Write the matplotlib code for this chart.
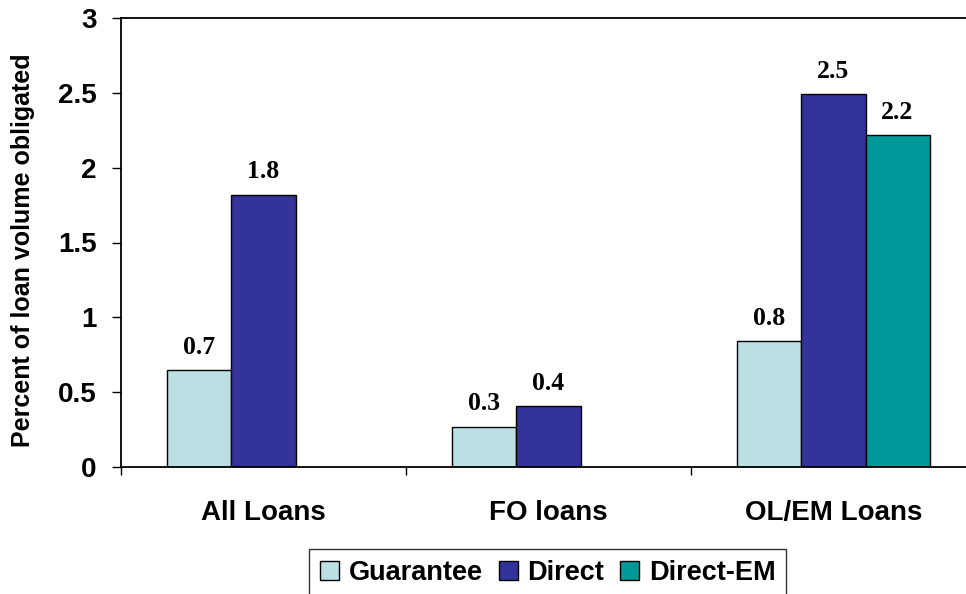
import numpy as np
import matplotlib.pyplot as plt

categories = ["All Loans", "FO loans", "OL/EM Loans"]
series_names = ["Guarantee", "Direct", "Direct-EM"]
guarantee = [0.65, 0.27, 0.84]
direct = [1.82, 0.41, 2.49]
direct_em = [np.nan, np.nan, 2.22]
colors = ["#BBE0E3", "#333399", "#009999"]

sans = "Liberation Sans"
serif = "Liberation Serif"

fig = plt.figure(figsize=(9.66, 5.94), dpi=100)
ax = fig.add_axes([121 / 966, 1 - 467 / 594, 855 / 966, 449 / 594])

x = np.arange(len(categories))
width = 0.2246
offsets = [-width, 0, width]

for vals, name, color, off in zip([guarantee, direct, direct_em], series_names, colors, offsets):
    vals = np.array(vals, dtype=float)
    ax.bar(x + off, vals, width, color=color, edgecolor="black",
           linewidth=1.0, label=name)
    for xi, v in zip(x + off, vals):
        if np.isnan(v):
            continue
        ax.annotate(f"{v:.1f}", (xi, v), xytext=(0, 8), textcoords="offset points",
                    ha="center", va="bottom", fontsize=18.5, fontweight="bold",
                    family=serif)

ax.set_xlim(-0.5, 2.5)
ax.set_ylim(0, 3)
ax.set_yticks(np.arange(0, 3.01, 0.5))
ax.set_yticklabels(["0", "0.5", "1", "1.5", "2", "2.5", "3"],
                   fontsize=20, fontweight="bold", family=sans)
ax.tick_params(axis="y", direction="out", length=6.5, width=1, pad=11)

ax.set_xticks(x)
ax.set_xticklabels(categories, fontsize=20, fontweight="bold", family=sans)
ax.tick_params(axis="x", which="major", length=0, pad=24)
ax.set_xticks([-0.5, 0.5, 1.5, 2.5], minor=True)
ax.tick_params(axis="x", which="minor", direction="out", length=6, width=1)

for side in ["left", "bottom", "top"]:
    ax.spines[side].set_linewidth(1.3)
ax.spines["right"].set_visible(False)

ax.set_ylabel("Percent of loan volume obligated", fontsize=18,
              fontweight="bold", family=sans)
ax.yaxis.set_label_coords(-0.1, 0.483)

leg = fig.legend(loc="upper center", bbox_to_anchor=(0.567, 1 - 549 / 594),
                 ncol=3, frameon=True, fancybox=False, edgecolor="black",
                 prop={"family": sans, "weight": "bold", "size": 19.5},
                 handlelength=0.7, handleheight=0.7, handletextpad=0.35,
                 columnspacing=0.6, borderpad=0.4, borderaxespad=0)
leg.get_frame().set_linewidth(1.0)

fig.savefig("out.png", dpi=100)
